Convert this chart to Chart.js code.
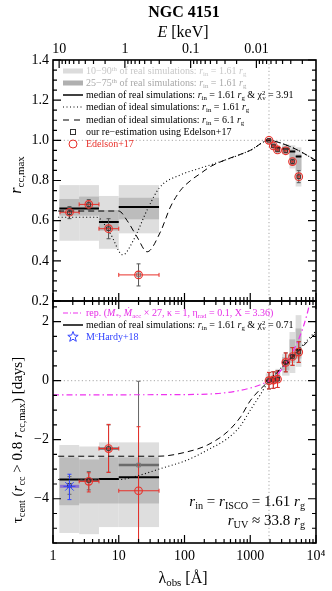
<!DOCTYPE html>
<html><head><meta charset="utf-8">
<script src="https://cdn.jsdelivr.net/npm/chart.js@4.4.1/dist/chart.umd.min.js"></script>
<style>
html,body{margin:0;padding:0;background:#fff;}
body{width:332px;height:591px;position:relative;overflow:hidden;font-family:"Liberation Serif","Times New Roman",serif;color:#000;}
.t{position:absolute;white-space:nowrap;line-height:1;}
.sb{font-size:0.68em;vertical-align:-0.3em;line-height:0;}
.sp{font-size:0.68em;vertical-align:0.5em;line-height:0;}
.lg{position:absolute;left:63px;height:12px;line-height:12px;font-size:10px;white-space:nowrap;}
.lg svg{position:absolute;left:0;top:1px;}
.lg .tx{position:absolute;left:23px;top:0;}
</style></head>
<body>
<canvas id="ct" width="332" height="312" style="position:absolute;left:0;top:0"></canvas>
<canvas id="cb" width="332" height="294" style="position:absolute;left:0;top:297px"></canvas>

<div class="t" style="left:184px;top:12px;transform:translate(-50%,-50%);font-weight:bold;font-size:16px;">NGC 4151</div>
<div class="t" style="left:183px;top:32px;transform:translate(-50%,-50%);font-size:16px;"><i>E</i> [keV]</div>
<div class="t" style="left:183px;top:578px;transform:translate(-50%,-50%);font-size:16px;">λ<span class="sb">obs</span> [Å]</div>
<div class="t" style="left:16px;top:175px;transform:translate(-50%,-50%) rotate(-90deg);font-size:16px;"><i>r</i><span class="sb">cc,max</span></div>
<div class="t" style="left:17px;top:440px;transform:translate(-50%,-50%) rotate(-90deg);font-size:15px;">τ<span class="sb">cent</span> (<i>r</i><span class="sb">cc</span> &gt; 0.8 <i>r</i><span class="sb">cc,max</span>) [days]</div>
<div class="t" style="right:27px;top:492px;font-size:15px;line-height:19px;text-align:right;"><i>r</i><span class="sb">in</span> = <i>r</i><span class="sb">ISCO</span> = 1.61 <i>r</i><span class="sb">g</span><br><i>r</i><span class="sb">UV</span> ≈ 33.8 <i>r</i><span class="sb">g</span></div>

<!-- top legend -->
<div class="lg" style="top:65px;color:#c8c8c8"><svg width="21" height="10"><rect x="0" y="2.5" width="20" height="5" fill="#dcdcdc"/></svg><span class="tx">10−90<span class="sp">th</span> of real simulations: <i>r</i><span class="sb">in</span> = 1.61 <i>r</i><span class="sb">g</span></span></div>
<div class="lg" style="top:77px;color:#a8a8a8"><svg width="21" height="10"><rect x="0" y="2.5" width="20" height="5" fill="#b0b0b0"/></svg><span class="tx">25−75<span class="sp">th</span> of real simulations: <i>r</i><span class="sb">in</span> = 1.61 <i>r</i><span class="sb">g</span></span></div>
<div class="lg" style="top:88.5px"><svg width="21" height="10"><line x1="0" y1="5" x2="20" y2="5" stroke="#000" stroke-width="1.5"/></svg><span class="tx">median of real simulations: <i>r</i><span class="sb">in</span> = 1.61 <i>r</i><span class="sb">g</span> &amp; χ<span class="sp">2</span><span class="sb" style="margin-left:-0.45em">ν</span> = 3.91</span></div>
<div class="lg" style="top:101px"><svg width="21" height="10"><line x1="0" y1="5" x2="20" y2="5" stroke="#000" stroke-width="1" stroke-dasharray="1,2.5"/></svg><span class="tx">median of ideal simulations: <i>r</i><span class="sb">in</span> = 1.61 <i>r</i><span class="sb">g</span></span></div>
<div class="lg" style="top:113.5px"><svg width="21" height="10"><line x1="0" y1="5" x2="20" y2="5" stroke="#000" stroke-width="1" stroke-dasharray="6,5"/></svg><span class="tx">median of ideal simulations: <i>r</i><span class="sb">in</span> = 6.1 <i>r</i><span class="sb">g</span></span></div>
<div class="lg" style="top:125.5px"><svg width="21" height="10"><rect x="7.5" y="2.5" width="5" height="5" fill="none" stroke="#333" stroke-width="1"/></svg><span class="tx">our re−estimation using Edelson+17</span></div>
<div class="lg" style="top:138px;color:#e8302a"><svg width="21" height="10"><circle cx="10" cy="5" r="4" fill="none" stroke="#e8302a" stroke-width="1"/></svg><span class="tx">Edelson+17</span></div>

<!-- bottom legend -->
<div class="lg" style="top:307px;color:#e62ee6"><svg width="21" height="10"><line x1="0" y1="5" x2="20" y2="5" stroke="#ee33ee" stroke-width="1.2" stroke-dasharray="5,2,1,2"/></svg><span class="tx">rep. (<i>M</i><span class="sb">*</span>, <i>Ṁ</i><span class="sb">acc</span> × 27, κ = 1, η<span class="sb">rad</span> = 0.1, X = 3.36)</span></div>
<div class="lg" style="top:319px"><svg width="21" height="10"><line x1="0" y1="5" x2="20" y2="5" stroke="#000" stroke-width="1.5"/></svg><span class="tx">median of real simulations: <i>r</i><span class="sb">in</span> = 1.61 <i>r</i><span class="sb">g</span> &amp; χ<span class="sp">2</span><span class="sb" style="margin-left:-0.45em">ν</span> = 0.71</span></div>
<div class="lg" style="top:331px;color:#3344ff"><svg width="21" height="12" style="top:0"><polygon points="10,0.5 11.4,4.1 15.2,4.3 12.2,6.6 13.3,10.3 10,8.2 6.7,10.3 7.8,6.6 4.8,4.3 8.6,4.1" fill="none" stroke="#3344ff" stroke-width="1"/></svg><span class="tx">M<span class="sp">c</span>Hardy+18</span></div>

<script>
// ---------- axes / ticks ----------
const HC = 12.398;                       // keV·Å, for the top energy axis
const eTickKeV   = [10, 1, 0.1, 0.01];
const eTickText  = ['10', '1', '0.1', '0.01'];
const lamTicks   = [1, 10, 100, 1000, 10000];
const lamTickText = ['1', '10', '100', '1000', '10⁴'];
const rTicks     = [0.2, 0.4, 0.6, 0.8, 1.0, 1.2, 1.4];
const tauTicks   = [-4, -2, 0, 2];

// ---------- wavelengths (Å) ----------
const xrayLam   = [1.78, 3.5, 7.0, 20.0];
const xrayBinLo = [1.25, 2.5, 5.0, 10.0];
const xrayBinHi = [2.5, 5.0, 10.0, 41.0];
const xrayErrLo = [1.28, 2.5, 5.0, 10.0];
const xrayErrHi = [2.5, 5.0, 10.0, 41.0];
const uvLam     = [1928, 2246, 2600, 3465, 4392, 5468];
const uvBinLo   = [1720, 2090, 2420, 3050, 3950, 4900];
const uvBinHi   = [2090, 2420, 2850, 3950, 4850, 6000];
const uvErrLo   = [1850, 2150, 2500, 3300, 4200, 5250];
const uvErrHi   = [2010, 2350, 2700, 3650, 4600, 5700];

// ---------- top panel: r_cc,max ----------
const rX10 = [0.50, 0.50, 0.46, 0.537];
const rX90 = [0.777, 0.777, 0.723, 0.777];
const rX25 = [0.625, 0.625, 0.55, 0.607];
const rX75 = [0.708, 0.72, 0.653, 0.714];
const rXMed = [0.661, 0.661, 0.593, 0.668];
const rU10 = [0.99, 0.96, 0.94, 0.93, 0.86, 0.77];
const rU90 = [1.005, 0.985, 0.975, 0.98, 0.975, 0.965];
const rU25 = [0.995, 0.965, 0.95, 0.945, 0.90, 0.85];
const rU75 = [1.0, 0.98, 0.97, 0.97, 0.955, 0.93];
const rUMed = [1.0, 0.975, 0.962, 0.958, 0.945, 0.92];
const edelRX = [0.642, 0.681, 0.560, 0.330];
const edelRU = [1.0, 0.972, 0.952, 0.948, 0.894, 0.819];
const sqRX = [0.640, 0.680, 0.560, 0.330];
const sqRXerr = [0.03, 0.025, 0.05, 0.055];
const sqRU = [1.0, 0.972, 0.952, 0.948, 0.894, 0.819];
const sqRUerr = [0.0, 0.008, 0.008, 0.01, 0.012, 0.03];
const idealR161Lam = [1.2, 4.6, 7.4, 11.5, 16.8, 27, 42, 87, 175, 400, 1000, 1928, 3000, 5000, 10000];
const idealR161   = [0.617, 0.617, 0.537, 0.43, 0.504, 0.653, 0.766, 0.828, 0.862, 0.90, 0.95, 1.0, 0.985, 0.955, 0.90];
const idealR61Lam = [1.2, 10, 13.3, 19, 27, 43, 61, 87, 124, 175, 250, 400, 1000, 1928, 3000, 5000, 10000];
const idealR61    = [0.648, 0.648, 0.602, 0.519, 0.445, 0.544, 0.668, 0.751, 0.80, 0.835, 0.87, 0.90, 0.95, 1.0, 0.985, 0.955, 0.90];

// ---------- bottom panel: tau_cent (days) ----------
const tX10 = [-5.16, -5.2, -4.96, -4.96];
const tX90 = [-2.18, -2.23, -2.09, -2.09];
const tX25 = [-4.22, -4.16, -4.16, -4.16];
const tX75 = [-2.6, -2.67, -2.6, -2.6];
const tXMed = [-3.35, -3.35, -3.33, -3.27];
const tU10 = [-0.15, -0.1, -0.05, 0.17, 0.26, 0.47];
const tU90 = [0.25, 0.3, 0.4, 0.9, 1.65, 2.22];
const tU25 = [-0.05, 0.0, 0.02, 0.35, 0.6, 0.75];
const tU75 = [0.12, 0.18, 0.25, 0.8, 1.4, 1.77];
const tUMed = [0.0, 0.05, 0.1, 0.62, 0.85, 1.05];
const edelTLam = [3.5, 7.0, 20.0];
const edelTLamLo = [2.5, 5.0, 10.0];
const edelTLamHi = [5.0, 10.0, 41.0];
const edelTX = [-3.41, -2.30, -3.73];
const edelTXlo = [-3.77, -3.11, -5.8];
const edelTXhi = [-3.12, -1.48, -1.56];
const edelTU = [0.0, 0.02, 0.05, 0.62, 0.82, 0.97];
const edelTUerr = [0.28, 0.28, 0.28, 0.32, 0.30, 0.35];
const mcLam = [1.78], mcLamLo = [1.28], mcLamHi = [2.5];
const mcT = [-3.58], mcTlo = [-4.03], mcThi = [-3.17];
const sqTX = [-3.55, -3.38, -2.30, -2.86];
const sqTXlo = [-3.85, -3.70, -3.10, -5.8];
const sqTXhi = [-3.25, -3.08, -1.50, -0.02];
const idealT161Lam = [1.2, 10, 21, 43, 110, 223, 450, 700, 1000, 1400, 1928, 3000, 5000, 10000];
const idealT161    = [-3.35, -3.35, -3.2, -2.98, -2.69, -2.35, -1.96, -1.55, -1.0, -0.5, 0.0, 0.45, 0.98, 1.68];
const idealT61Lam  = [1.2, 40, 110, 223, 450, 716, 1000, 1928, 3000, 5000, 10000];
const idealT61     = [-2.56, -2.56, -2.41, -2.18, -1.73, -1.22, -0.68, 0.0, 0.43, 0.93, 1.62];
const repLam = [1, 100, 300, 560, 1000, 1500, 1928, 2500, 3300, 4500, 5900, 7000, 8000, 8600];
const repTau = [-0.48, -0.47, -0.44, -0.37, -0.25, -0.12, 0.0, 0.18, 0.5, 1.0, 1.6, 2.1, 2.6, 2.9];

const REF_LAM = 1928;

// ---------- styles ----------
const FONT = "'Liberation Serif', 'Times New Roman', serif";
const LIGHT = '#dedede', DARK = '#bcbcbc', RED = '#e8302a', SQ = '#333333';

const pts = (xs, ys) => xs.map((x, i) => ({x, y: ys[i]}));
const cat = (a, b) => a.concat(b);
const noPad = s => { s.paddingTop = 0; s.paddingBottom = 0; s.paddingLeft = 0; s.paddingRight = 0; };

function makeDecor(cfg) {
  return {
    id: 'decor_' + cfg.name,
    beforeDatasetsDraw(chart) {
      const ctx = chart.ctx, a = chart.chartArea, xs = chart.scales.x, ys = chart.scales.y;
      ctx.save();
      ctx.beginPath(); ctx.rect(a.left, a.top, a.width, a.height); ctx.clip();
      cfg.boxes.forEach(b => {
        ctx.fillStyle = b.color;
        b.lo.forEach((lo, i) => {
          const L = xs.getPixelForValue(b.x0[i]), R = xs.getPixelForValue(b.x1[i]);
          const T = ys.getPixelForValue(b.hi[i]), B = ys.getPixelForValue(lo);
          ctx.fillRect(L, T, R - L, B - T);
        });
      });
      ctx.strokeStyle = '#a8a8a8'; ctx.lineWidth = 1; ctx.setLineDash([1.2, 2.4]);
      const yr = ys.getPixelForValue(cfg.refY), xr = xs.getPixelForValue(REF_LAM);
      ctx.beginPath(); ctx.moveTo(a.left, yr); ctx.lineTo(a.right, yr);
      ctx.moveTo(xr, a.top); ctx.lineTo(xr, a.bottom); ctx.stroke();
      ctx.setLineDash([]);
      ctx.strokeStyle = '#000'; ctx.lineWidth = 2;
      cfg.medians.forEach(m => {
        ctx.beginPath();
        m.y.forEach((v, i) => {
          const py = ys.getPixelForValue(v);
          ctx.moveTo(xs.getPixelForValue(m.x0[i]), py);
          ctx.lineTo(xs.getPixelForValue(m.x1[i]), py);
        });
        ctx.stroke();
      });
      cfg.errs.forEach(e => {
        ctx.strokeStyle = e.color; ctx.lineWidth = e.lw || 1;
        const cap = e.cap == null ? 2 : e.cap;
        e.x.forEach((xv, i) => {
          const px = xs.getPixelForValue(xv), py = ys.getPixelForValue(e.y[i]);
          ctx.beginPath();
          if (e.ylo) {
            const p1 = ys.getPixelForValue(e.ylo[i]), p2 = ys.getPixelForValue(e.yhi[i]);
            ctx.moveTo(px, p1); ctx.lineTo(px, p2);
            if (cap) { ctx.moveTo(px - cap, p1); ctx.lineTo(px + cap, p1); ctx.moveTo(px - cap, p2); ctx.lineTo(px + cap, p2); }
          }
          if (e.xlo) {
            const q1 = xs.getPixelForValue(e.xlo[i]), q2 = xs.getPixelForValue(e.xhi[i]);
            ctx.moveTo(q1, py); ctx.lineTo(q2, py);
            if (cap) { ctx.moveTo(q1, py - cap); ctx.lineTo(q1, py + cap); ctx.moveTo(q2, py - cap); ctx.lineTo(q2, py + cap); }
          }
          ctx.stroke();
        });
      });
      ctx.restore();
    },
    afterDraw(chart) {
      const ctx = chart.ctx, a = chart.chartArea, xs = chart.scales.x, ys = chart.scales.y;
      ctx.save();
      ctx.strokeStyle = '#000'; ctx.lineWidth = 1.2;
      ctx.beginPath();
      const seg = (x1, y1, x2, y2) => { ctx.moveTo(x1, y1); ctx.lineTo(x2, y2); };
      for (let k = 0; k < 4; k++) for (let m = 1; m <= 10; m++) {
        const px = xs.getPixelForValue(m * Math.pow(10, k));
        const L = (m === 1 || m === 10) ? 8 : 4;
        if (cfg.xBottom) seg(px, a.bottom, px, a.bottom - L);
        if (cfg.xTop) seg(px, a.top, px, a.top + L);
      }
      if (cfg.eTop) {
        for (let k = -3; k <= 1; k++) for (let m = 1; m <= 9; m++) {
          const lam = HC / (m * Math.pow(10, k));
          if (lam < 1 || lam > 10000) continue;
          const px = xs.getPixelForValue(lam);
          seg(px, a.top, px, a.top + (m === 1 ? 8 : 4));
        }
      }
      const i0 = Math.ceil(ys.min / cfg.yMinor - 1e-6), i1 = Math.floor(ys.max / cfg.yMinor + 1e-6);
      const ratio = Math.round(cfg.yMajor / cfg.yMinor);
      for (let i = i0; i <= i1; i++) {
        const py = ys.getPixelForValue(i * cfg.yMinor);
        const L = (i % ratio === 0) ? 8 : 4;
        seg(a.left, py, a.left + L, py); seg(a.right, py, a.right - L, py);
      }
      ctx.stroke();
      ctx.lineWidth = 1.6;
      ctx.strokeRect(a.left, a.top, a.right - a.left, a.bottom - a.top);
      ctx.restore();
    }
  };
}

const tickFont = {family: FONT, size: 14};
const hiddenAxis = (pos, h) => ({
  type: 'logarithmic', position: pos, min: 1, max: 10000,
  ticks: {display: false}, grid: {display: false, drawTicks: false}, border: {display: false},
  afterFit(s) { s.height = h; noPad(s); }
});

// ---------- top chart ----------
new Chart(document.getElementById('ct'), {
  type: 'scatter',
  data: {datasets: [
    {data: pts(cat(xrayLam, uvLam), cat(edelRX, edelRU)), pointStyle: 'circle', pointRadius: 3.8,
     borderColor: RED, backgroundColor: 'rgba(232,48,42,0.08)', borderWidth: 1.1},
    {data: pts(cat(xrayLam, uvLam), cat(sqRX, sqRU)), pointStyle: 'rect', pointRadius: 2.6,
     borderColor: [SQ, SQ, SQ, '#777', SQ, SQ, SQ, SQ, SQ, SQ], backgroundColor: 'rgba(0,0,0,0)', borderWidth: 1},
    {data: pts(idealR61Lam, idealR61), showLine: true, borderColor: '#000', borderWidth: 1,
     borderDash: [6, 4], pointRadius: 0, cubicInterpolationMode: 'monotone'},
    {data: pts(idealR161Lam, idealR161), showLine: true, borderColor: '#000', borderWidth: 1.1,
     borderDash: [1, 2.5], pointRadius: 0, cubicInterpolationMode: 'monotone'}
  ]},
  options: {
    responsive: false, animation: false, events: [],
    layout: {padding: 0, autoPadding: false},
    plugins: {legend: {display: false}, tooltip: {enabled: false}},
    scales: {
      x: hiddenAxis('bottom', 11),
      x2: {type: 'logarithmic', position: 'top', min: 1, max: 10000,
        grid: {display: false, drawTicks: false}, border: {display: false},
        afterBuildTicks(s) { s.ticks = eTickKeV.map(e => ({value: HC / e})); },
        ticks: {font: tickFont, color: '#000', padding: 2, maxRotation: 0, autoSkip: false,
          callback: (v, i) => eTickText[i]},
        afterFit(s) { s.height = 60; noPad(s); }},
      y: {type: 'linear', position: 'left', min: 0.2, max: 1.4,
        grid: {display: false, drawTicks: false}, border: {display: false},
        afterBuildTicks(s) { s.ticks = rTicks.map(v => ({value: v})); },
        ticks: {font: tickFont, color: '#000', padding: 4, callback: v => v.toFixed(1)},
        afterFit(s) { s.width = 53; noPad(s); }},
      yR: {type: 'linear', position: 'right', min: 0.2, max: 1.4,
        ticks: {display: false}, grid: {display: false, drawTicks: false}, border: {display: false},
        afterFit(s) { s.width = 16; noPad(s); }}
    }
  },
  plugins: [makeDecor({
    name: 'top', refY: 1.0, xBottom: true, xTop: false, eTop: true, yMinor: 0.05, yMajor: 0.2,
    boxes: [
      {color: LIGHT, x0: cat(xrayBinLo, uvBinLo), x1: cat(xrayBinHi, uvBinHi), lo: cat(rX10, rU10), hi: cat(rX90, rU90)},
      {color: DARK,  x0: cat(xrayBinLo, uvBinLo), x1: cat(xrayBinHi, uvBinHi), lo: cat(rX25, rU25), hi: cat(rX75, rU75)}
    ],
    medians: [{x0: cat(xrayBinLo, uvBinLo), x1: cat(xrayBinHi, uvBinHi), y: cat(rXMed, rUMed)}],
    errs: [
      {color: '#555', lw: 1, x: cat(xrayLam, uvLam), y: cat(sqRX, sqRU),
       ylo: cat(sqRX, sqRU).map((v, i) => v - cat(sqRXerr, sqRUerr)[i]),
       yhi: cat(sqRX, sqRU).map((v, i) => v + cat(sqRXerr, sqRUerr)[i])},
      {color: RED, lw: 1, x: cat(xrayLam, uvLam), y: cat(edelRX, edelRU),
       xlo: cat(xrayErrLo, uvErrLo), xhi: cat(xrayErrHi, uvErrHi)}
    ]
  })]
});

// ---------- bottom chart ----------
new Chart(document.getElementById('cb'), {
  type: 'scatter',
  data: {datasets: [
    {data: pts(mcLam, mcT), pointStyle: 'star', pointRadius: 6, borderColor: '#3344ff',
     backgroundColor: 'rgba(0,0,0,0)', borderWidth: 1},
    {data: pts(cat(edelTLam, uvLam), cat(edelTX, edelTU)), pointStyle: 'circle', pointRadius: 3.8,
     borderColor: RED, backgroundColor: 'rgba(232,48,42,0.08)', borderWidth: 1.1},
    {data: pts(cat(xrayLam, uvLam), cat(sqTX, edelTU)), pointStyle: 'rect', pointRadius: 2.6,
     borderColor: [SQ, SQ, SQ, '#777', SQ, SQ, SQ, SQ, SQ, SQ], backgroundColor: 'rgba(0,0,0,0)', borderWidth: 1},
    {data: pts(repLam, repTau), showLine: true, borderColor: '#ee33ee', borderWidth: 1.2,
     borderDash: [6, 3, 1.5, 3], pointRadius: 0, cubicInterpolationMode: 'monotone'},
    {data: pts(idealT61Lam, idealT61), showLine: true, borderColor: '#000', borderWidth: 1,
     borderDash: [6, 4], pointRadius: 0, cubicInterpolationMode: 'monotone'},
    {data: pts(idealT161Lam, idealT161), showLine: true, borderColor: '#000', borderWidth: 1.1,
     borderDash: [1, 2.5], pointRadius: 0, cubicInterpolationMode: 'monotone'}
  ]},
  options: {
    responsive: false, animation: false, events: [],
    layout: {padding: 0, autoPadding: false},
    plugins: {legend: {display: false}, tooltip: {enabled: false}},
    scales: {
      x: {type: 'logarithmic', position: 'bottom', min: 1, max: 10000,
        grid: {display: false, drawTicks: false}, border: {display: false},
        afterBuildTicks(s) { s.ticks = lamTicks.map(v => ({value: v})); },
        ticks: {font: tickFont, color: '#000', padding: 5, maxRotation: 0, autoSkip: false,
          callback: (v, i) => lamTickText[i]},
        afterFit(s) { s.height = 48; noPad(s); }},
      xT: hiddenAxis('top', 4),
      y: {type: 'linear', position: 'left', min: -5.5, max: 2.7,
        grid: {display: false, drawTicks: false}, border: {display: false},
        afterBuildTicks(s) { s.ticks = tauTicks.map(v => ({value: v})); },
        ticks: {font: tickFont, color: '#000', padding: 4,
          callback: v => (v < 0 ? '−' + Math.abs(v) : String(v))},
        afterFit(s) { s.width = 53; noPad(s); }},
      yR: {type: 'linear', position: 'right', min: -5.5, max: 2.7,
        ticks: {display: false}, grid: {display: false, drawTicks: false}, border: {display: false},
        afterFit(s) { s.width = 16; noPad(s); }}
    }
  },
  plugins: [makeDecor({
    name: 'bot', refY: 0, xBottom: true, xTop: true, eTop: false, yMinor: 0.5, yMajor: 2,
    boxes: [
      {color: LIGHT, x0: cat(xrayBinLo, uvBinLo), x1: cat(xrayBinHi, uvBinHi), lo: cat(tX10, tU10), hi: cat(tX90, tU90)},
      {color: DARK,  x0: cat(xrayBinLo, uvBinLo), x1: cat(xrayBinHi, uvBinHi), lo: cat(tX25, tU25), hi: cat(tX75, tU75)}
    ],
    medians: [{x0: cat(xrayBinLo, uvBinLo), x1: cat(xrayBinHi, uvBinHi), y: cat(tXMed, tUMed)}],
    errs: [
      {color: 'rgba(80,80,80,0.75)', lw: 2.5, cap: 0, x: xrayLam.slice(1), y: sqTX.slice(1),
       xlo: xrayErrLo.slice(1), xhi: xrayErrHi.slice(1)},
      {color: '#666', lw: 1, x: xrayLam, y: sqTX, ylo: sqTXlo, yhi: sqTXhi},
      {color: '#555', lw: 1, x: uvLam, y: edelTU,
       ylo: edelTU.map((v, i) => v - edelTUerr[i]), yhi: edelTU.map((v, i) => v + edelTUerr[i])},
      {color: RED, lw: 1, x: cat(edelTLam, uvLam), y: cat(edelTX, edelTU),
       xlo: cat(edelTLamLo, uvErrLo), xhi: cat(edelTLamHi, uvErrHi),
       ylo: cat(edelTXlo, edelTU.map((v, i) => v - edelTUerr[i])),
       yhi: cat(edelTXhi, edelTU.map((v, i) => v + edelTUerr[i]))},
      {color: 'rgba(130,100,210,0.85)', lw: 3, cap: 0, x: mcLam, y: mcT, xlo: mcLamLo, xhi: mcLamHi},
      {color: '#3344ff', lw: 1, x: mcLam, y: mcT, ylo: mcTlo, yhi: mcThi}
    ]
  })]
});
</script>
</body></html>
